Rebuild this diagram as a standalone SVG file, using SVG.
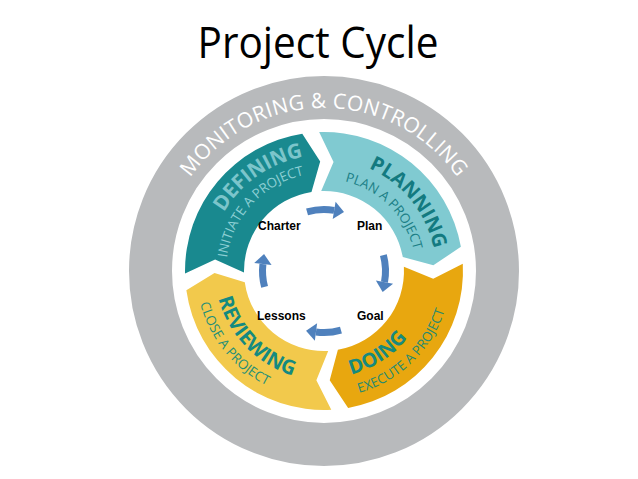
<svg xmlns="http://www.w3.org/2000/svg" width="638" height="479" viewBox="0 0 638 479">
<style>
.seg-title{font-family:"Open Sans","Liberation Sans",sans-serif;font-weight:700;}
.seg-sub{font-family:"Open Sans","Liberation Sans",sans-serif;font-weight:400;font-size:13.3px;}
.lbl{font-family:"Liberation Sans","Open Sans",sans-serif;font-weight:700;font-size:12px;fill:#000;}
.arr{fill:none;stroke:#4f81bd;stroke-width:7;marker-end:url(#ah);}
</style>
<defs>
<marker id="ah" markerUnits="userSpaceOnUse" markerWidth="20" markerHeight="20" refX="0" refY="0" viewBox="-1 -8 12 16" orient="auto">
<path d="M0,-7 L8,0 L0,7 Z" fill="#4f81bd"/>
</marker>
<path id="pMon" d="M161,271 A163,163 0 0 1 487,271"/>
<path id="pDef1" d="M208.44,281.11 A116,116 0 0 1 373.02,165.87"/>
<path id="pDef2" d="M230.28,299.65 A98,98 0 0 1 346.05,175.51"/>
<path id="pPla1" d="M306.48,160.38 A112,112 0 0 1 428.56,311.14"/>
<path id="pPla2" d="M300.19,182.13 A92,92 0 0 1 412.87,294.81"/>
<path id="pDoi1" d="M275.42,366.34 A107,107 0 0 0 430.85,265.40"/>
<path id="pDoi2" d="M288.99,393.08 A127,127 0 0 0 447.23,240.28"/>
<path id="pRev1" d="M219.22,240.96 A109,109 0 0 0 350.37,376.76"/>
<path id="pRev2" d="M204.50,225.13 A128,128 0 0 0 344.02,397.42"/>
</defs>
<rect width="638" height="479" fill="#ffffff"/>
<text x="318" y="58" font-family="Open Sans, Liberation Sans, sans-serif" font-size="43" fill="#000" text-anchor="middle" textLength="241" lengthAdjust="spacingAndGlyphs">Project Cycle</text>

<g id="monitoring">
<circle cx="324" cy="271" r="173.5" fill="none" stroke="#b8babc" stroke-width="43"/>
<text font-family="Open Sans, Liberation Sans, sans-serif" font-size="21" fill="#ffffff" letter-spacing="0.3"><textPath href="#pMon" startOffset="50%" text-anchor="middle">MONITORING &amp; CONTROLLING</textPath></text>
</g>

<g id="defining">
<path d="M185.02,273.43 A139,139 0 0 1 302.26,133.71 L320.18,161.57 L311.49,191.98 A80,80 0 0 0 244.01,272.40 L215.10,259.55 Z" fill="#19898f"/>
<text class="seg-title" font-size="20.5" fill="#7cc5cb"><textPath href="#pDef1" startOffset="50%" text-anchor="middle">DEFINING</textPath></text>
<text class="seg-sub" fill="#8ccfd4"><textPath href="#pDef2" startOffset="50%" text-anchor="middle">INITIATE A PROJECT</textPath></text>
</g>

<g id="planning">
<path d="M319.15,132.08 A139,139 0 0 1 460.89,246.86 L433.35,265.27 L402.78,257.11 A80,80 0 0 0 321.21,191.05 L333.54,161.92 Z" fill="#80cad1"/>
<text class="seg-title" font-size="20" fill="#137a80"><textPath href="#pPla1" startOffset="50%" text-anchor="middle">PLANNING</textPath></text>
<text class="seg-sub" fill="#1b7f86"><textPath href="#pPla2" startOffset="50%" text-anchor="middle">PLAN A PROJECT</textPath></text>
</g>

<g id="doing">
<path d="M462.81,263.72 A139,139 0 0 1 348.14,407.89 L329.73,380.35 L337.89,349.78 A80,80 0 0 0 403.89,266.81 L433.23,278.64 Z" fill="#e8a70f"/>
<text class="seg-title" font-size="20" fill="#168a7e"><textPath href="#pDoi1" startOffset="50%" text-anchor="middle">DOING</textPath></text>
<text class="seg-sub" fill="#258a70"><textPath href="#pDoi2" startOffset="50%" text-anchor="middle">EXECUTE A PROJECT</textPath></text>
</g>

<g id="reviewing">
<path d="M331.28,409.81 A139,139 0 0 1 186.35,290.34 L214.52,272.91 L244.78,282.13 A80,80 0 0 0 328.19,350.89 L316.36,380.23 Z" fill="#f2c94c"/>
<text class="seg-title" font-size="20" fill="#148a80"><textPath href="#pRev1" startOffset="50%" text-anchor="middle">REVIEWING</textPath></text>
<text class="seg-sub" fill="#1f8f78"><textPath href="#pRev2" startOffset="50%" text-anchor="middle">CLOSE A PROJECT</textPath></text>
</g>

<g id="charter"><text class="lbl" x="258" y="230">Charter</text></g>
<g id="plan"><text class="lbl" x="357" y="230">Plan</text></g>
<g id="goal"><text class="lbl" x="357" y="320">Goal</text></g>
<g id="lessons"><text class="lbl" x="257" y="320">Lessons</text></g>

<g id="connectors">
<path class="arr" d="M307.05,211.88 A61.5,61.5 0 0 1 334.15,210.34"/>
<path class="arr" d="M383.40,255.08 A61.5,61.5 0 0 1 384.47,282.21"/>
<path class="arr" d="M340.95,330.12 A61.5,61.5 0 0 1 315.97,331.97"/>
<path class="arr" d="M264.60,286.92 A61.5,61.5 0 0 1 262.90,264.04"/>
</g>
</svg>
